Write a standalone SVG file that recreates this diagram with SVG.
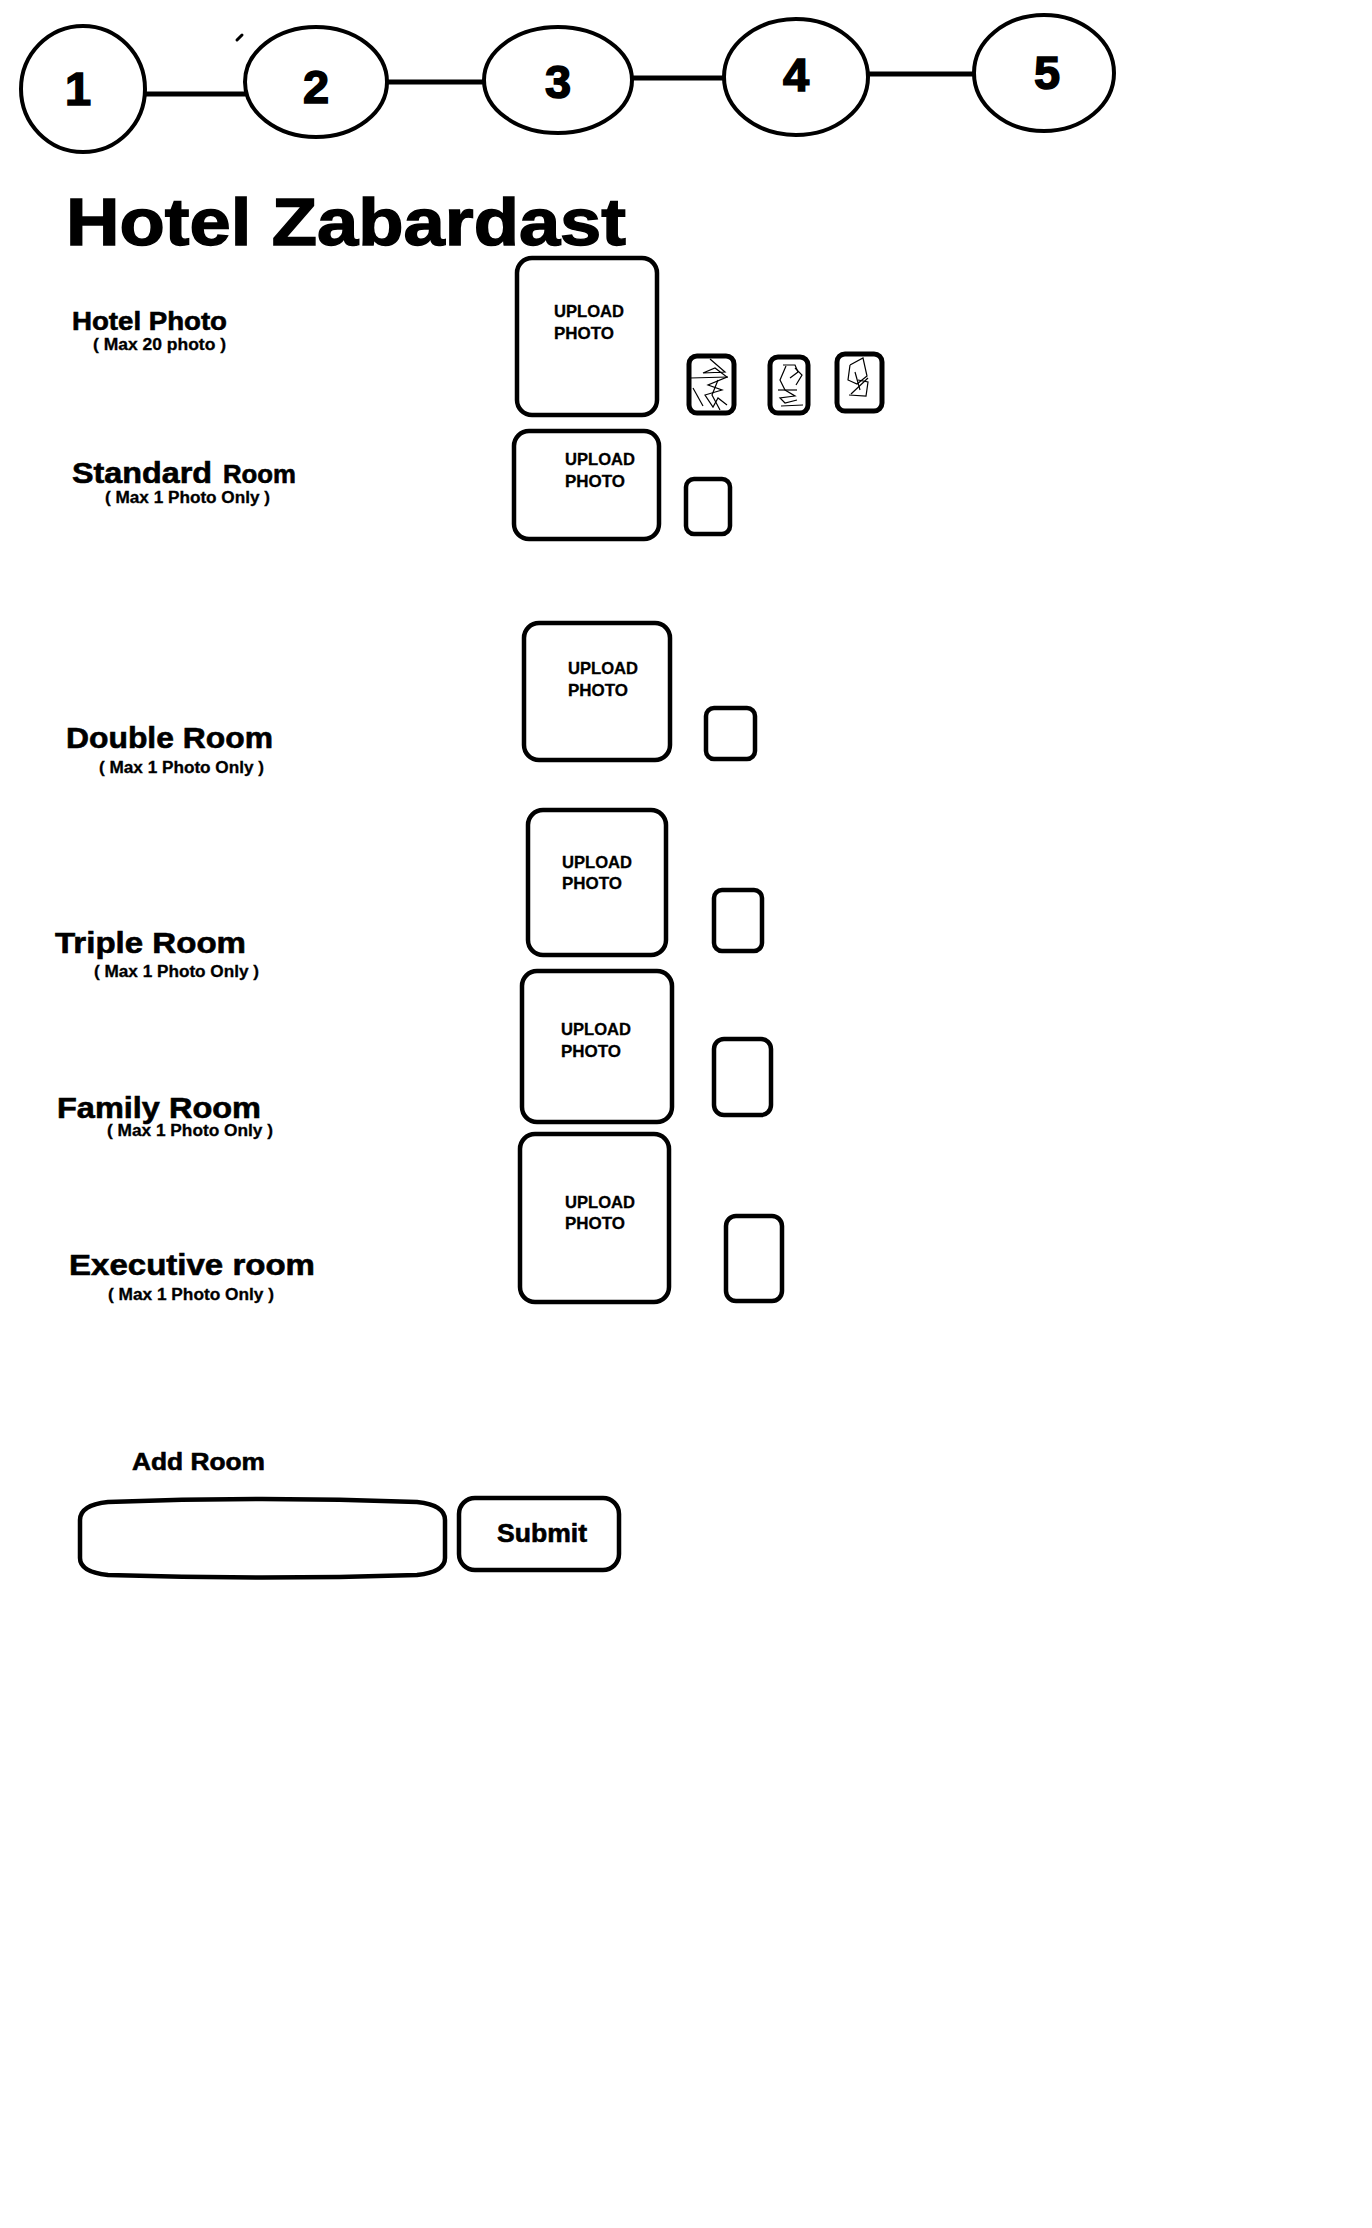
<svg xmlns="http://www.w3.org/2000/svg" width="1372" height="2228" viewBox="0 0 1372 2228">
<style>
  .bg{fill:#ffffff}
  .step{fill:#ffffff;stroke:#000;stroke-width:4}
  .conn{stroke:#000;stroke-width:5;fill:none}
  .num{font-family:"Liberation Sans",Arial,sans-serif;font-weight:bold;font-size:47px;fill:#000;stroke:#000;stroke-width:1.5;text-anchor:middle}
  .title{font-family:"Liberation Sans",Arial,sans-serif;font-weight:bold;font-size:66px;fill:#000;stroke:#000;stroke-width:1.4}
  .lbl{font-family:"Liberation Sans",Arial,sans-serif;font-weight:bold;font-size:29px;fill:#000;stroke:#000;stroke-width:0.6}
  .sub{font-family:"Liberation Sans",Arial,sans-serif;font-weight:bold;font-size:16px;fill:#000;stroke:#000;stroke-width:0.3}
  .up{font-family:"Liberation Sans",Arial,sans-serif;font-weight:bold;font-size:16.5px;fill:#000;stroke:#000;stroke-width:0.3}
  .box{fill:#fff;stroke:#000;stroke-width:4.5}
  .thumb{fill:#fff;stroke:#000;stroke-width:5}
  .scr{fill:none;stroke:#000;stroke-width:1.2}
</style>
<rect class="bg" x="0" y="0" width="1372" height="2228"/>

<g id="connectors">
  <line class="conn" x1="145" y1="94" x2="246" y2="94"/>
  <line class="conn" x1="387" y1="82" x2="485" y2="82"/>
  <line class="conn" x1="632" y1="78" x2="725" y2="78"/>
  <line class="conn" x1="867" y1="74" x2="975" y2="74"/>
</g>

<g id="step1"><ellipse class="step" cx="83" cy="89" rx="62" ry="63"/><text class="num" x="78" y="105">1</text></g>
<g id="step2"><ellipse class="step" cx="316" cy="82" rx="71" ry="55"/><text class="num" x="316" y="103">2</text></g>
<g id="step3"><ellipse class="step" cx="558" cy="80" rx="74" ry="53"/><text class="num" x="558" y="98">3</text></g>
<g id="step4"><ellipse class="step" cx="796" cy="77" rx="72" ry="58"/><text class="num" x="796" y="91">4</text></g>
<g id="step5"><ellipse class="step" cx="1044" cy="73" rx="70" ry="58"/><text class="num" x="1047" y="89">5</text></g>
<line x1="237" y1="40" x2="242" y2="35" stroke="#000" stroke-width="3" stroke-linecap="round"/>

<g id="title"><text class="title" x="66" y="245" textLength="560" lengthAdjust="spacingAndGlyphs">Hotel Zabardast</text></g>

<g id="hotel-photo">
  <text class="lbl" style="font-size:25px" x="72" y="330" textLength="155" lengthAdjust="spacingAndGlyphs">Hotel Photo</text>
  <text class="sub" x="93" y="350" textLength="133" lengthAdjust="spacingAndGlyphs">( Max 20 photo )</text>
  <rect class="box" x="517" y="258" width="140" height="157" rx="15"/>
  <text class="up" x="554" y="317" textLength="70" lengthAdjust="spacingAndGlyphs">UPLOAD</text>
  <text class="up" x="554" y="339" textLength="60" lengthAdjust="spacingAndGlyphs">PHOTO</text>
  <rect class="thumb" x="689" y="356" width="45" height="57" rx="8"/>
  <rect class="thumb" x="770" y="357" width="38" height="56" rx="8"/>
  <rect class="thumb" x="837" y="354" width="45" height="57" rx="8"/>
  <polyline class="scr" points="710,359 725,372 703,373 715,368 727,377 708,385 722,390 705,395 713,407 718,398 727,405"/>
  <polyline class="scr" points="690,378 728,377"/>
  <polyline class="scr" points="693,388 703,406"/>
  <polyline class="scr" points="718,380 712,395 720,410"/>
  <polyline class="scr" points="783,365 795,365 798,372 790,378"/>
  <polyline class="scr" points="786,366 780,380 785,390 795,396 780,398 785,403 797,400"/>
  <polyline class="scr" points="778,390 797,390"/>
  <polyline class="scr" points="781,406 803,405"/>
  <polyline class="scr" points="795,368 802,375 796,385"/>
  <polyline class="scr" points="850,365 863,358 867,376 857,384 848,380 850,365"/>
  <polyline class="scr" points="851,394 868,378"/>
  <polyline class="scr" points="849,395 866,396 868,382 858,380"/>
  <polyline class="scr" points="855,372 860,390"/>
</g>

<g id="standard-room">
  <text class="lbl" x="72" y="483" textLength="140" lengthAdjust="spacingAndGlyphs">Standard</text>
  <text class="lbl" style="font-size:25px" x="223" y="483" textLength="73" lengthAdjust="spacingAndGlyphs">Room</text>
  <text class="sub" x="105" y="503" textLength="165" lengthAdjust="spacingAndGlyphs">( Max 1 Photo Only )</text>
  <rect class="box" x="514" y="431" width="145" height="108" rx="15"/>
  <text class="up" x="565" y="465" textLength="70" lengthAdjust="spacingAndGlyphs">UPLOAD</text>
  <text class="up" x="565" y="487" textLength="60" lengthAdjust="spacingAndGlyphs">PHOTO</text>
  <rect class="box" x="686" y="479" width="44" height="55" rx="8"/>
</g>

<g id="double-room">
  <text class="lbl" x="66" y="748" textLength="207" lengthAdjust="spacingAndGlyphs">Double Room</text>
  <text class="sub" x="99" y="773" textLength="165" lengthAdjust="spacingAndGlyphs">( Max 1 Photo Only )</text>
  <rect class="box" x="524" y="623" width="146" height="137" rx="15"/>
  <text class="up" x="568" y="674" textLength="70" lengthAdjust="spacingAndGlyphs">UPLOAD</text>
  <text class="up" x="568" y="696" textLength="60" lengthAdjust="spacingAndGlyphs">PHOTO</text>
  <rect class="box" x="706" y="708" width="49" height="51" rx="8"/>
</g>

<g id="triple-room">
  <text class="lbl" x="55" y="953" textLength="191" lengthAdjust="spacingAndGlyphs">Triple Room</text>
  <text class="sub" x="94" y="977" textLength="165" lengthAdjust="spacingAndGlyphs">( Max 1 Photo Only )</text>
  <rect class="box" x="528" y="810" width="138" height="145" rx="15"/>
  <text class="up" x="562" y="868" textLength="70" lengthAdjust="spacingAndGlyphs">UPLOAD</text>
  <text class="up" x="562" y="889" textLength="60" lengthAdjust="spacingAndGlyphs">PHOTO</text>
  <rect class="box" x="714" y="890" width="48" height="61" rx="8"/>
</g>

<g id="family-room">
  <text class="lbl" x="57" y="1118" textLength="204" lengthAdjust="spacingAndGlyphs">Family Room</text>
  <text class="sub" x="107" y="1136" textLength="166" lengthAdjust="spacingAndGlyphs">( Max 1 Photo Only )</text>
  <rect class="box" x="522" y="971" width="150" height="151" rx="15"/>
  <text class="up" x="561" y="1035" textLength="70" lengthAdjust="spacingAndGlyphs">UPLOAD</text>
  <text class="up" x="561" y="1057" textLength="60" lengthAdjust="spacingAndGlyphs">PHOTO</text>
  <rect class="box" x="714" y="1039" width="57" height="76" rx="10"/>
</g>

<g id="executive-room">
  <text class="lbl" x="69" y="1275" textLength="246" lengthAdjust="spacingAndGlyphs">Executive room</text>
  <text class="sub" x="108" y="1300" textLength="166" lengthAdjust="spacingAndGlyphs">( Max 1 Photo Only )</text>
  <rect class="box" x="520" y="1134" width="149" height="168" rx="15"/>
  <text class="up" x="565" y="1208" textLength="70" lengthAdjust="spacingAndGlyphs">UPLOAD</text>
  <text class="up" x="565" y="1229" textLength="60" lengthAdjust="spacingAndGlyphs">PHOTO</text>
  <rect class="box" x="726" y="1216" width="56" height="85" rx="10"/>
</g>

<g id="add-room">
  <text class="lbl" style="font-size:24px" x="132" y="1470" textLength="133" lengthAdjust="spacingAndGlyphs">Add Room</text>
  <path class="box" d="M 108,1502 Q 262,1496 417,1502 Q 445,1505 445,1520 L 445,1558 Q 445,1572 417,1575 Q 262,1580 108,1575 Q 80,1572 80,1558 L 80,1520 Q 80,1505 108,1502 Z"/>
</g>

<g id="submit">
  <rect class="box" x="459" y="1498" width="160" height="72" rx="16"/>
  <text class="lbl" style="font-size:25px" x="497" y="1542" textLength="90" lengthAdjust="spacingAndGlyphs">Submit</text>
</g>
</svg>
